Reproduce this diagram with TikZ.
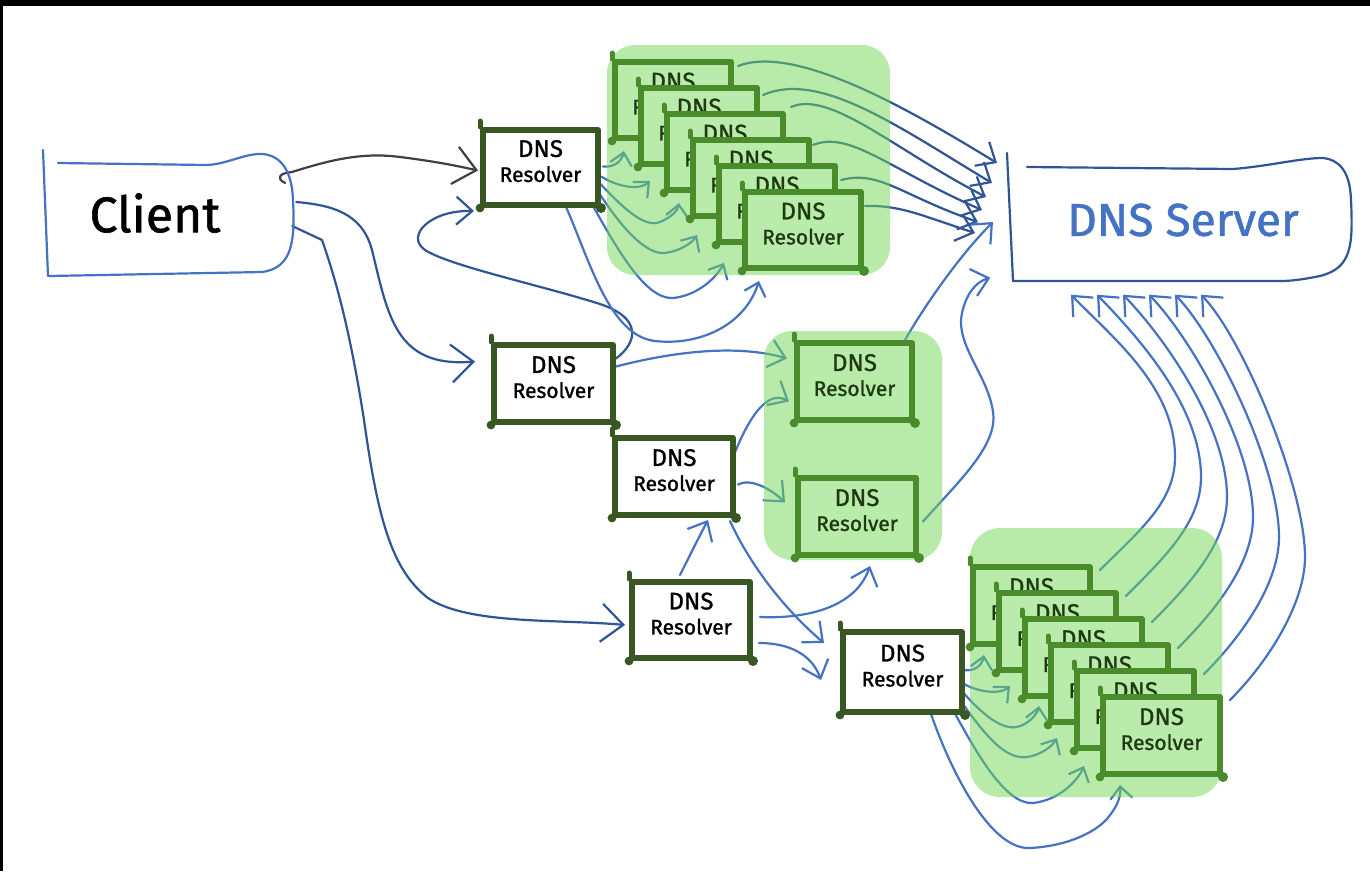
\documentclass[tikz,border=0pt]{standalone}
\usepackage{fontspec}
\setmainfont{Fira Sans}[FakeBold=1.2,AutoFakeBold=1.2]
\usetikzlibrary{arrows.meta,calc}

\definecolor{lineblue}{HTML}{4472C4}
\definecolor{darkblue}{HTML}{2F5597}
\definecolor{arrowgray}{HTML}{404040}
\definecolor{resdark}{HTML}{385723}
\definecolor{resgreen}{HTML}{4A8B2C}
\definecolor{hilite}{HTML}{73D955}
\definecolor{boxfill}{HTML}{B9ECAA}
\definecolor{greentext}{HTML}{1F3A12}

\pgfdeclarelayer{wires}
\pgfdeclarelayer{marker}
\pgfsetlayers{wires,marker,main}

\tikzset{
  term/.style={inner sep=0pt, align=center},
  res/.style={draw=resdark, line width=6pt, line join=round, fill=white,
    minimum width=117pt, minimum height=77pt, inner sep=0pt, align=center,
    text=black, font=\fontsize{21}{25}\selectfont\bfseries},
  gres/.style={res, draw=resgreen, fill=boxfill, text=greentext},
  wire/.style={draw=lineblue, line width=2.2pt, line cap=round, line join=round},
  dwire/.style={wire, draw=darkblue},
  gwire/.style={wire, draw=arrowgray},
  outline/.style={line width=2.2pt, line cap=round, line join=round},
  tipS/.style={-{Straight Barb[length=12pt,width=22pt]}},
  tipM/.style={-{Straight Barb[length=16pt,width=28pt]}},
  tipL/.style={-{Straight Barb[length=22pt,width=38pt]}},
  marker/.style={fill=hilite, fill opacity=0.5, rounded corners=28pt},
}

\newcommand{\dnsres}{{\fontsize{24}{25}\selectfont DNS}\\Resolver\\[-12pt]\mbox{}}
% rounded pen blobs on the corners of a resolver box
\newcommand{\penmarks}[2]{%
  \fill[#2] (#1.south west) circle (4.4pt);
  \fill[#2] (#1.south east) circle (5pt);
  \draw[#2, line width=5pt, line cap=round] (#1.north west) -- ++(0,-6);
}

\begin{document}
\begin{tikzpicture}[x=1pt,y=-1pt]
\useasboundingbox (0,0) rectangle (1370,871);
\begin{pgfonlayer}{wires}
  \fill[white] (0,0) rectangle (1370,871);
\end{pgfonlayer}

% ---------- end points ----------
\node[term, minimum width=276pt, minimum height=126pt,
      font=\fontsize{50}{55}\selectfont\bfseries] (client) at (155,213) {Client};
\node[term, minimum width=351pt, minimum height=125pt, text=lineblue,
      font=\fontsize{46}{50}\selectfont\bfseries] (server) at (1183,220) {DNS Server};

% hand drawn outlines of the two end points
\draw[outline, lineblue] (43,150) -- (48,276);
\draw[outline, lineblue] (58,163) -- (207,165)
  .. controls (228,164) and (245,153) .. (263,154)
  .. controls (282,156) and (292,172) .. (293,200)
  .. controls (295,240) and (293,268) .. (262,272) -- (49,276);
\draw[outline, darkblue] (1007,153) -- (1013,281);
\draw[outline, darkblue] (1027,167) -- (1233,169)
  .. controls (1270,166) and (1300,158) .. (1323,158)
  .. controls (1340,160) and (1350,172) .. (1351,200)
  .. controls (1353,245) and (1352,268) .. (1320,276)
  .. controls (1300,280) and (1290,281) .. (1280,281) -- (1013,281);

% ---------- single resolvers ----------
\node[res, minimum width=115pt, minimum height=75pt] (r1) at (540.5,167.5) {\dnsres};
\node[res, minimum width=119pt] (r2) at (553.5,383.5) {\dnsres};
\node[res, minimum width=118pt] (r3) at (674,476.5) {\dnsres};
\node[res, minimum width=118pt, minimum height=76pt] (r4) at (691,620) {\dnsres};
\node[res, minimum width=119pt, minimum height=80pt] (r5) at (902.5,672) {\dnsres};
\foreach \n in {r1,r2,r3,r4,r5} {\penmarks{\n}{resdark}}

% ---------- resolver pools ----------
\foreach \k in {0,...,5} {
  \node[gres, minimum width=116pt, minimum height=76pt] (ga\k)
    at ({673+26*\k},{100+26*\k}) {\dnsres};
  \penmarks{ga\k}{resgreen}
}
\node[gres, minimum width=115pt] (gb1) at (854.5,381.5) {\dnsres};
\node[gres, minimum width=118pt] (gb2) at (857,516.5) {\dnsres};
\penmarks{gb1}{resgreen}
\penmarks{gb2}{resgreen}
\foreach \k in {0,...,5} {
  \node[gres] (gc\k) at ({1031.5+26*\k},{605.5+26*\k}) {\dnsres};
  \penmarks{gc\k}{resgreen}
}

% ---------- highlighter behind the pools ----------
\begin{pgfonlayer}{marker}
  \fill[marker] (607,45) rectangle (890,275);
  \fill[marker] (764,331) rectangle (942,560);
  \fill[marker, rounded corners=30pt] (970,528) rectangle (1222,797);
\end{pgfonlayer}

% ---------- connectors ----------
\begin{pgfonlayer}{wires}
  % client to the first resolvers
  \draw[gwire, tipL] ($(client.east)+(-8,-30)$) .. controls (275,178) and (280,173) .. (292,172)
    .. controls (330,160) and (362,152) .. (400,157)
    .. controls (440,162) and (462,167) .. ($(r1.west)+(-2,3)$);
  \draw[dwire, tipL] ($(client.east)+(3,-11)$) .. controls (330,205) and (362,212) .. (372,250)
    .. controls (388,315) and (395,368) .. ($(r2.west)+(-16,-22)$);
  \draw[dwire, tipL] ($(client.east)+(-1,13)$) -- (322,240)
    .. controls (336,280) and (350,330) .. (364,420)
    .. controls (378,520) and (392,570) .. (428,598)
    .. controls (468,625) and (560,619) .. ($(r4.west)+(-4,5)$);

  % second resolver loops back to the first one
  \draw[dwire, tipM] ($(r2.east)+(0,-25)$) .. controls (638,342) and (642,318) .. (600,304)
    .. controls (540,285) and (450,266) .. (425,250)
    .. controls (405,236) and (430,210) .. ($(r1.south west)+(-6,3)$);

  % first resolver fans out to its pool
  \draw[wire, tipS] ($(r1.east)+(2,-1)$) .. controls (615,168) and (622,160) .. ($(ga0.south west)+(12,10)$);
  \draw[wire, tipS] ($(r1.east)+(0,9)$) .. controls (620,188) and (640,190) .. ($(ga1.south west)+(12,14)$);
  \draw[wire, tipS] ($(r1.east)+(0,17)$) .. controls (625,210) and (645,228) .. (660,222)
    .. controls (672,217) and (678,210) .. ($(ga2.south west)+(15,10)$);
  \draw[wire, tipS] ($(r1.east)+(-1,27)$) .. controls (620,225) and (645,255) .. (665,253)
    .. controls (680,251) and (692,243) .. ($(ga3.south west)+(7,16)$);
  \draw[wire, tipS] ($(r1.south east)+(-8,-2)$) .. controls (615,245) and (645,300) .. (673,298)
    .. controls (695,296) and (715,280) .. ($(ga4.south west)+(8,18)$);
  \draw[wire, tipS] ($(r1.south)+(26,0)$) .. controls (590,262) and (610,336) .. (655,341)
    .. controls (700,346) and (745,325) .. ($(ga5.south west)+(17,10)$);

  % first pool to the server
  \draw[dwire, tipM] ($(ga0.north east)+(4,7)$) .. controls (795,44) and (907,108) .. (997,163);
  \draw[dwire, tipM] ($(ga1.north east)+(3,10)$) .. controls (820,70) and (900,128) .. (992,183);
  \draw[dwire, tipM] ($(ga2.north east)+(5,-4)$) .. controls (830,90) and (895,150) .. (986,197);
  \draw[dwire, tipM] ($(ga3.north east)+(1,8)$) .. controls (850,130) and (890,170) .. (982,210);
  \draw[dwire, tipM] ($(ga4.north east)+(3,17)$) .. controls (880,170) and (900,195) .. (978,222);
  \draw[dwire, tipM] ($(ga5.north east)+(1,17)$) .. controls (900,205) and (920,215) .. (975,233);

  % middle resolvers
  \draw[wire, tipM] ($(r2.east)+(0,-17)$) .. controls (680,350) and (740,345) .. ($(gb1.west)+(-7,-23)$);
  \draw[wire, tipM] ($(r3.east)+(-5,-14)$) .. controls (745,425) and (765,388) .. ($(gb1.west)+(-5,20)$);
  \draw[wire, tipM] ($(r3.east)+(2,8)$) .. controls (750,478) and (770,488) .. ($(gb2.west)+(-10,-14)$);
  \draw[wire, tipM] ($(r4.north)+(-11,-4)$) .. controls (690,555) and (700,535) .. ($(r3.south)+(34,2)$);
  \draw[wire, tipM] ($(r3.south east)+(-6,3)$) .. controls (750,565) and (785,610) .. ($(r5.west)+(-16,-29)$);
  \draw[wire, tipM] ($(r4.east)+(7,-3)$) .. controls (810,619) and (856,606) .. ($(gb2.south)+(13,8)$);
  \draw[wire, tipM] ($(r4.east)+(6,23)$) .. controls (790,643) and (812,655) .. ($(r5.west)+(-19,8)$);

  % second pool to the server
  \draw[wire, tipM] ($(gb1.north east)+(-10,0)$) .. controls (925,305) and (960,255) .. (993,222);
  \draw[wire, tipM] ($(gb2.east)+(4,5)$) .. controls (960,480) and (998,445) .. (993,412)
    .. controls (988,375) and (955,345) .. (962,313)
    .. controls (966,295) and (975,282) .. ($(server.south west)+(-17,-5)$);

  % last resolver fans out to its pool
  \draw[wire, tipS] ($(r5.east)+(-2,-2)$) .. controls (975,672) and (982,665) .. ($(gc0.south west)+(14,8)$);
  \draw[wire, tipS] ($(r5.east)+(-4,10)$) .. controls (975,692) and (1000,695) .. ($(gc1.south west)+(14,13)$);
  \draw[wire, tipS] ($(r5.east)+(-4,18)$) .. controls (980,712) and (1000,730) .. (1017,727)
    .. controls (1030,724) and (1038,712) .. ($(gc2.south west)+(17,7)$);
  \draw[wire, tipS] ($(r5.east)+(-5,28)$) .. controls (985,735) and (1005,760) .. (1027,757)
    .. controls (1042,755) and (1053,745) .. ($(gc3.south west)+(9,13)$);
  \draw[wire, tipS] ($(r5.south east)+(-12,-5)$) .. controls (975,750) and (1005,805) .. (1033,803)
    .. controls (1060,800) and (1078,780) .. ($(gc4.south west)+(10,15)$);
  \draw[wire, tipS] ($(r5.south east)+(-35,-4)$) .. controls (950,770) and (990,850) .. (1030,848)
    .. controls (1070,846) and (1100,830) .. (1110,815)
    .. controls (1118,805) and (1121,795) .. ($(gc5.south west)+(20,8)$);

  % last pool climbs back to the server
  \foreach \k in {0,...,5} {
    \draw[wire, tipM] ($(gc\k.north east)+(7,6)$)
      .. controls +(40,-40) and ({1175+26*\k},{502+20*\k}) .. ({1175+26*\k},{457+20*\k})
      .. controls ({1175+26*\k},{387+20*\k}) and ({1113+26*\k},338) .. ($(server.south)+({-112+26*\k},12)$);
  }
\end{pgfonlayer}

% frame edges
\fill[black] (0,0) rectangle (1370,6);
\fill[black] (0,0) rectangle (3,871);
\end{tikzpicture}
\end{document}
